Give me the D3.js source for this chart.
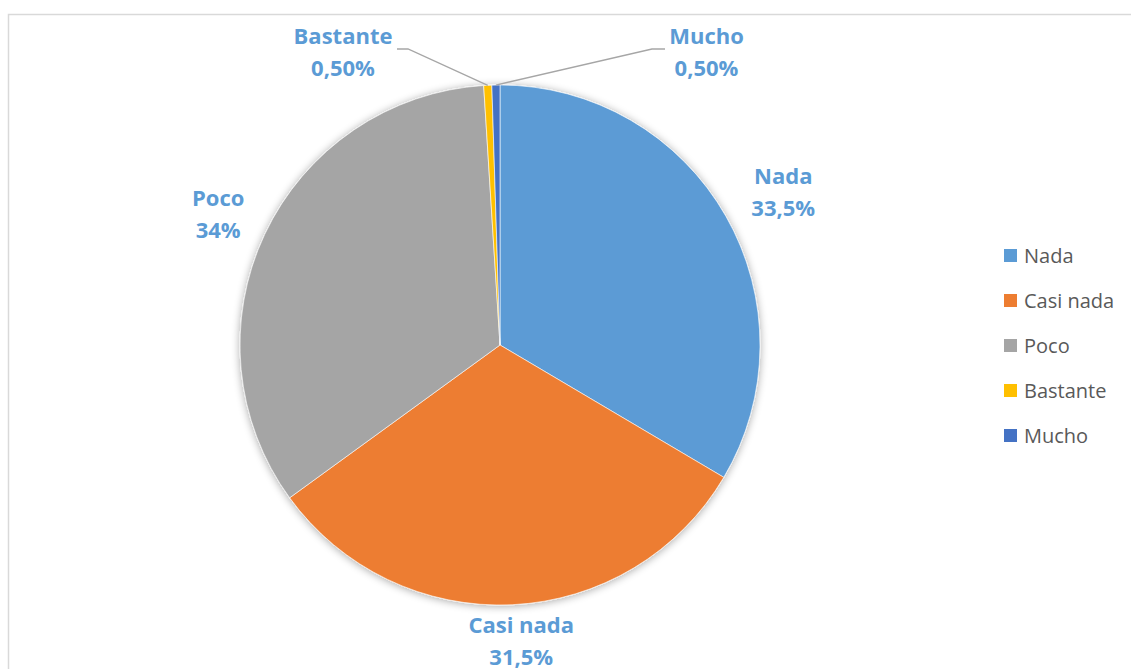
<!DOCTYPE html>
<html><head><meta charset="utf-8">
<script src="https://cdn.jsdelivr.net/npm/d3@7"></script>
<style>body{margin:0;background:#fff}svg{display:block}</style>
</head><body>
<svg id="c" width="1131" height="669"></svg>
<script>
const categories = ["Nada", "Casi nada", "Poco", "Bastante", "Mucho"];
const values = [33.5, 31.5, 34, 0.5, 0.5];
const labelTexts = ["33,5%", "31,5%", "34%", "0,50%", "0,50%"];
const colors = ["#5b9bd5", "#ed7d31", "#a5a5a5", "#ffc000", "#4472c4"];

const W = 1131, H = 669;
const cx = 500, cy = 345, R = 260;
const svg = d3.select("#c");

// chart border
svg.append("rect").attr("x", 8.5).attr("y", 14.5).attr("width", 1200).attr("height", 800)
  .attr("fill", "#fff").attr("stroke", "#d9d9d9").attr("stroke-width", 1.5);

const defs = svg.append("defs");
const f = defs.append("filter").attr("id", "sh").attr("x", "-20%").attr("y", "-20%").attr("width", "140%").attr("height", "140%");
f.append("feGaussianBlur").attr("in", "SourceAlpha").attr("stdDeviation", 4).attr("result", "b");
f.append("feOffset").attr("in", "b").attr("dx", 0).attr("dy", 1).attr("result", "o");
f.append("feComponentTransfer").attr("in", "o").attr("result", "t")
  .append("feFuncA").attr("type", "linear").attr("slope", 0.35);
const m = f.append("feMerge");
m.append("feMergeNode").attr("in", "t");
m.append("feMergeNode").attr("in", "SourceGraphic");

const data = categories.map((c, i) => ({ name: c, value: values[i], label: labelTexts[i], color: colors[i] }));
const pie = d3.pie().value(d => d.value).sort(null);
const arcs = pie(data);
const arc = d3.arc().innerRadius(0).outerRadius(R);

const g = svg.append("g").attr("transform", `translate(${cx},${cy})`);
g.append("g").attr("filter", "url(#sh)")
  .selectAll("path").data(arcs).join("path")
  .attr("d", arc).attr("fill", d => d.data.color)
  .attr("stroke", "#fff").attr("stroke-width", 0.6);

// label layout: radial distance (px) and angular tweak (deg) of label block centre
const labelLayout = {
  "Nada": { dist: 322, dAng: 1.3 },
  "Casi nada": { dist: 297, dAng: -1.4 },
  "Poco": { dist: 311, dAng: -0.2 }
};
const font = "'Open Sans', Lato, sans-serif";
const fs = 22;

function polar(a, r) { return [Math.sin(a) * r, -Math.cos(a) * r]; }

arcs.forEach(a => {
  const mid = (a.startAngle + a.endAngle) / 2;
  const n = a.data.name;
  let lx, ly;
  const L = labelLayout[n];
  if (L) {
    [lx, ly] = polar(mid + L.dAng * Math.PI / 180, L.dist);
  } else {
    const p = polar(mid, R);
    const elbowY = 49 - cy;
    const left = n === "Bastante";
    const ex = left ? 408 - cx : 652 - cx;
    const endx = left ? 397 - cx : 665 - cx;
    g.append("polyline")
      .attr("points", [[p[0], p[1]], [ex, elbowY], [endx, elbowY]].map(q => q.join(",")).join(" "))
      .attr("fill", "none").attr("stroke", "#a6a6a6").attr("stroke-width", 1.3);
    lx = left ? 343 - cx : 706.5 - cx;
    ly = 52 - cy;
  }
  const t = g.append("text").attr("text-anchor", "middle")
    .attr("font-family", font).attr("font-weight", "bold").attr("font-size", fs)
    .attr("fill", "#5b9bd5");
  t.append("tspan").attr("x", lx).attr("y", ly - 8).text(n);
  t.append("tspan").attr("x", lx).attr("y", ly + 24).text(a.data.label);
});

// legend
const lg = svg.append("g").attr("transform", "translate(1004,249)");
const rows = lg.selectAll("g").data(data).join("g")
  .attr("transform", (d, i) => `translate(0,${i * 45})`);
rows.append("rect").attr("width", 13).attr("height", 13).attr("fill", d => d.color);
rows.append("text").attr("x", 20).attr("y", 14).attr("font-family", font)
  .attr("font-size", 20).attr("fill", "#595959").text(d => d.name);
</script>
</body></html>
